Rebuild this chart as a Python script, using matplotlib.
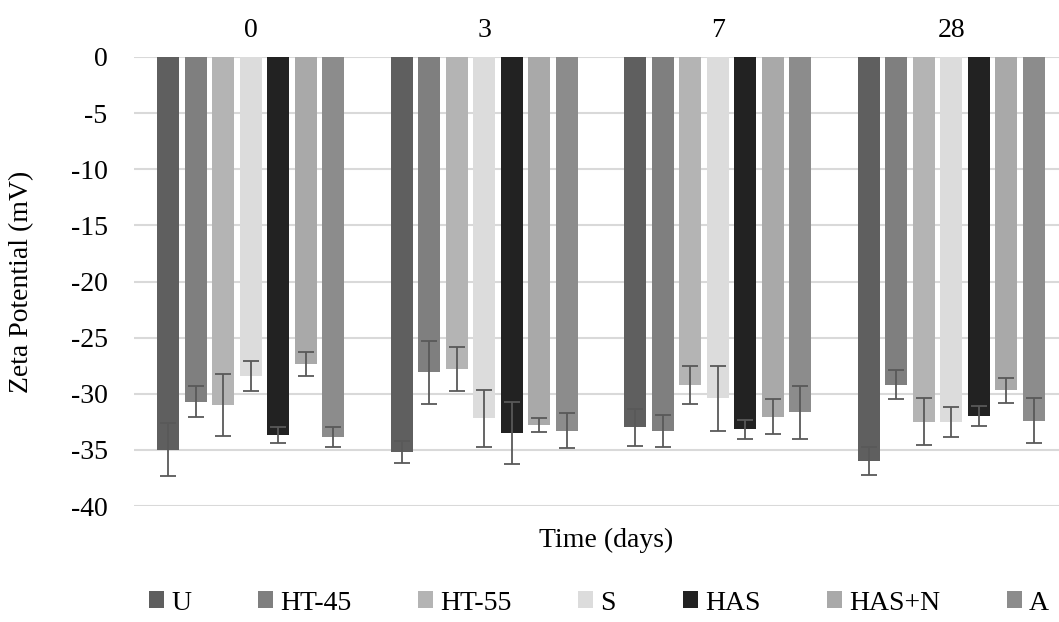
import numpy as np
import matplotlib
matplotlib.use("Agg")
import matplotlib.pyplot as plt
from matplotlib.patches import Patch

plt.rcParams['font.family'] = ['Liberation Serif', 'DejaVu Serif']
plt.rcParams['axes.unicode_minus'] = False

days = ["0", "3", "7", "28"]
series = ["U", "HT-45", "HT-55", "S", "HAS", "HAS+N", "A"]

# mean zeta potential per series, one value per day
u_vals = [-35.0, -35.2, -33.0, -35.95]
ht45_vals = [-30.7, -28.1, -33.3, -29.2]
ht55_vals = [-31.0, -27.8, -29.25, -32.5]
s_vals = [-28.4, -32.2, -30.4, -32.5]
has_vals = [-33.7, -33.5, -33.15, -32.0]
hasn_vals = [-27.35, -32.8, -32.05, -29.7]
a_vals = [-33.85, -33.3, -31.65, -32.4]

# standard deviations
u_err = [2.35, 0.95, 1.65, 1.25]
ht45_err = [1.4, 2.8, 1.4, 1.3]
ht55_err = [2.8, 1.95, 1.7, 2.1]
s_err = [1.35, 2.5, 2.9, 1.35]
has_err = [0.7, 2.75, 0.85, 0.9]
hasn_err = [1.1, 0.65, 1.55, 1.1]
a_err = [0.85, 1.55, 2.35, 2.0]

values = [u_vals, ht45_vals, ht55_vals, s_vals, has_vals, hasn_vals, a_vals]
errors = [u_err, ht45_err, ht55_err, s_err, has_err, hasn_err, a_err]
colors = ['#5f5f5f', '#7f7f7f', '#b4b4b4', '#dcdcdc', '#222222', '#a9a9a9', '#8c8c8c']

W, H = 1059, 622
fig = plt.figure(figsize=(W / 100, H / 100), dpi=100)
ax = fig.add_axes([134 / W, 1 - 506 / H, 934 / W, 449 / H])

x = np.arange(len(days))
step = 0.1177
width = 0.094
for i, name in enumerate(series):
    ax.bar(x + (i - 3) * step, values[i], width, color=colors[i], label=name, zorder=2)
    ax.errorbar(x + (i - 3) * step, values[i], yerr=errors[i], fmt='none',
                ecolor='#595959', elinewidth=1.3, capsize=6, capthick=1.3, zorder=3)

ax.set_xlim(-0.5, len(days) - 0.5)
ax.set_ylim(-40, 0)
ax.set_yticks(np.arange(-40, 1, 5))
ax.yaxis.grid(True, color='#d9d9d9', linewidth=1.5, zorder=0)
ax.set_axisbelow(True)
for sp in ax.spines.values():
    sp.set_visible(False)

ax.xaxis.tick_top()
ax.set_xticks(x)
ax.set_xticklabels(days, fontsize=20)
ax.tick_params(axis='both', length=0, labelsize=20)
ax.tick_params(axis='x', pad=10)
ax.tick_params(axis='y', pad=19)

fig.text(22 / W, 1 - 282 / H, "Zeta Potential (mV)", rotation=90,
         ha='center', va='center', fontsize=20)
fig.text(606 / W, 1 - 540 / H, "Time (days)", ha='center', va='center', fontsize=20)

handles = [Patch(facecolor=c, edgecolor='none') for c in colors]
fig.legend(handles, series, loc='center', ncol=7, frameon=False, fontsize=20,
           bbox_to_anchor=(599 / W, 1 - 603 / H), handlelength=0.55, handleheight=0.55,
           handletextpad=0.25, columnspacing=2.4)

fig.savefig("out.png", dpi=100)
